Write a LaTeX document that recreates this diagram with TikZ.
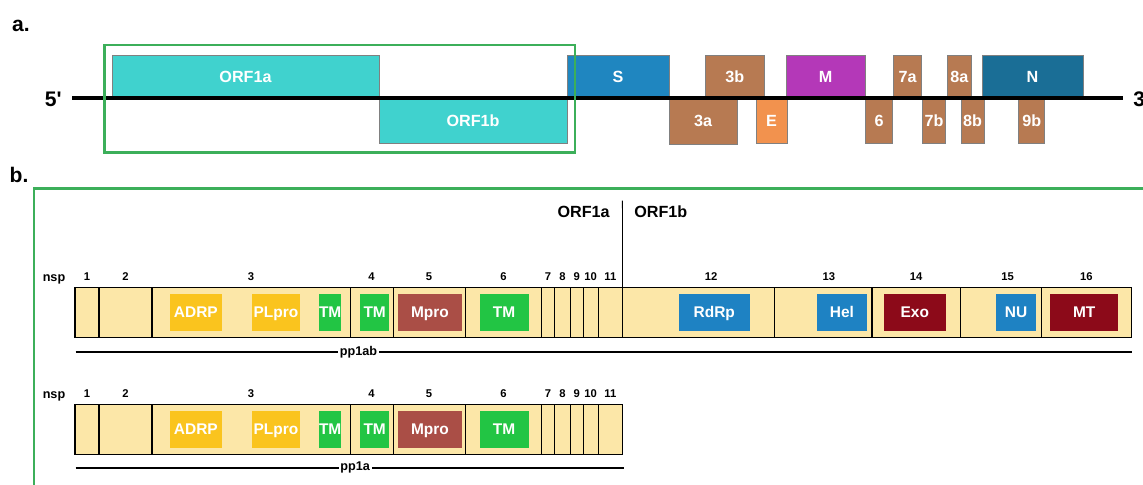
\documentclass[tikz,border=0pt]{standalone}
\usepackage{fontspec}
\setmainfont{Liberation Sans}
\usepackage{xcolor}
\usepackage{tikz}
\usetikzlibrary{positioning}
\definecolor{orfteal}{RGB}{64,210,206}
\definecolor{spikeblue}{RGB}{31,134,192}
\definecolor{nucblue}{RGB}{26,110,150}
\definecolor{accbrown}{RGB}{183,122,82}
\definecolor{envorange}{RGB}{242,146,78}
\definecolor{membpurple}{RGB}{180,56,184}
\definecolor{framegreen}{RGB}{60,175,90}
\definecolor{barfill}{RGB}{252,231,168}
\definecolor{domgold}{RGB}{250,196,30}
\definecolor{domgreen}{RGB}{34,197,68}
\definecolor{domred}{RGB}{170,78,70}
\definecolor{domblue}{RGB}{30,130,195}
\definecolor{domdark}{RGB}{140,10,25}
\tikzset{
  panel/.style={font=\bfseries\fontsize{15}{18}\selectfont, inner sep=0pt},
  gene/.style={draw=black!50, line width=0.4pt, inner sep=0pt, outer sep=0pt,
               font=\bfseries\fontsize{11.5}{13}\selectfont, text=white,
               text height=8.2pt, text depth=0pt},
  upgene/.style={gene, anchor=south west, minimum height=1.075cm},
  downgene/.style={gene, anchor=north west, minimum height=1.125cm},
  genome/.style={line width=3.2pt, black},
  endlbl/.style={font=\bfseries\fontsize{15}{18}\selectfont, inner sep=0pt},
  frame/.style={draw=framegreen, line width=2pt},
  seg/.style={draw=black, line width=0.8pt, fill=barfill, minimum height=1.25cm,
              inner sep=0pt, outer sep=0pt},
  nsplbl/.style={font=\bfseries\fontsize{8}{10}\selectfont, inner sep=0pt, yshift=4.5pt},
  nsphead/.style={font=\bfseries\fontsize{9}{11}\selectfont, inner sep=0pt},
  dom/.style={inner sep=0pt, minimum height=0.92cm, text=white,
              font=\bfseries\fontsize{11}{13}\selectfont,
              text height=7.9pt, text depth=0pt},
  orflbl/.style={font=\bfseries\fontsize{11.5}{13}\selectfont, inner sep=0pt},
  divider/.style={line width=0.6pt, black},
  ppline/.style={line width=1.2pt, black},
  pplbl/.style={font=\bfseries\fontsize{9}{11}\selectfont, fill=white, inner sep=1.2pt}
}
\begin{document}
\begin{tikzpicture}[x=0.025cm, y=-0.025cm]
\useasboundingbox (0,0) rectangle (1143,485);
% a. genome
\node[panel] (pa) at (21,26) {a.};
\node[upgene, fill=orfteal, minimum width=6.675cm] (orf1a) at (112,98) {ORF1a};
\node[downgene, fill=orfteal, minimum width=4.7cm] (orf1b) at (379,98) {ORF1b};
\node[upgene, fill=spikeblue, minimum width=2.55cm] (S) at (567,98) {S};
\node[downgene, fill=accbrown, minimum width=1.7cm, minimum height=1.15cm] (g3a) at (669,98) {3a};
\node[upgene, fill=accbrown, minimum width=1.4875cm] (g3b) at (705,98) {3b};
\node[downgene, fill=envorange, minimum width=0.775cm] (E) at (756,98) {E};
\node[upgene, fill=membpurple, minimum width=1.975cm] (M) at (786,98) {M};
\node[downgene, fill=accbrown, minimum width=0.675cm] (g6) at (865.6,98) {6};
\node[upgene, fill=accbrown, minimum width=0.7cm] (g7a) at (893.5,98) {7a};
\node[downgene, fill=accbrown, minimum width=0.575cm] (g7b) at (922.5,98) {7b};
\node[upgene, fill=accbrown, minimum width=0.6cm] (g8a) at (947.4,98) {8a};
\node[downgene, fill=accbrown, minimum width=0.575cm] (g8b) at (961,98) {8b};
\node[upgene, fill=nucblue, minimum width=2.525cm] (N) at (982,98) {N};
\node[downgene, fill=accbrown, minimum width=0.65cm] (g9b) at (1018.7,98) {9b};
\coordinate (end5) at (72,98);
\coordinate (end3) at (1123,98);
\draw[genome] (end5) -- (end3);
\node[endlbl, anchor=east] (five) at (62,99) {5\textquotesingle};
\node[endlbl, anchor=west] (three) at (1133,99) {3\textquotesingle};
\draw[frame] (104.5,45) rectangle (575,152.3);
% b. polyproteins
\node[panel] (pb) at (19,175) {b.};
\draw[frame] (34,188.3) rectangle (1180,530);
\node[orflbl, anchor=east] (lbl1a) at (610,212) {ORF1a};
\node[orflbl, anchor=west] (lbl1b) at (634,212) {ORF1b};
% pp1ab
\node[nsphead, anchor=base] (nspab) at (54,281) {nsp};
\node[seg, minimum width=0.6cm, anchor=north west, label={[nsplbl]above:1}] (p1) at (75,287.3) {};
\node[seg, minimum width=1.325cm, right=0pt of p1, label={[nsplbl]above:2}] (p2) {};
\node[seg, minimum width=4.95cm, right=0pt of p2, label={[nsplbl]above:3}] (p3) {};
\node[seg, minimum width=1.075cm, right=0pt of p3, label={[nsplbl]above:4}] (p4) {};
\node[seg, minimum width=1.8cm, right=0pt of p4, label={[nsplbl]above:5}] (p5) {};
\node[seg, minimum width=1.915cm, right=0pt of p5, label={[nsplbl]above:6}] (p6) {};
\node[seg, minimum width=0.3175cm, right=0pt of p6, label={[nsplbl]above:7}] (p7) {};
\node[seg, minimum width=0.3975cm, right=0pt of p7, label={[nsplbl]above:8}] (p8) {};
\node[seg, minimum width=0.32cm, right=0pt of p8, label={[nsplbl]above:9}] (p9) {};
\node[seg, minimum width=0.375cm, right=0pt of p9, label={[nsplbl]above:10}] (p10) {};
\node[seg, minimum width=0.61cm, right=0pt of p10, label={[nsplbl]above:11}] (p11) {};
\node[seg, minimum width=3.795cm, right=0pt of p11, label={[nsplbl, xshift=9pt]above:12}] (p12) {};
\node[seg, minimum width=2.44cm, right=0pt of p12, label={[nsplbl, xshift=4pt]above:13}] (p13) {};
\node[seg, minimum width=2.205cm, right=0pt of p13, label={[nsplbl]above:14}] (p14) {};
\node[seg, minimum width=2.02cm, right=0pt of p14, label={[nsplbl, xshift=5pt]above:15}] (p15) {};
\node[seg, minimum width=2.2675cm, right=0pt of p15, label={[nsplbl]above:16}] (p16) {};
\coordinate (divtop) at (622.4,200.7);
\draw[divider] (divtop) -- (p12.north west);
\node[dom, fill=domgold, minimum width=1.285cm] (adrp1) at (195.9,312.4) {ADRP};
\node[dom, fill=domgold, minimum width=1.205cm] (plpro1) at (275.9,312.4) {PLpro};
\node[dom, fill=domgreen, minimum width=0.55cm] (tm3a) at (330.2,312.4) {TM};
\node[dom, fill=domgreen, minimum width=0.715cm] (tm4a) at (374.7,312.4) {TM};
\node[dom, fill=domred, minimum width=1.6cm] (mpro1) at (430,312.4) {Mpro};
\node[dom, fill=domgreen, minimum width=1.225cm] (tm6a) at (504.1,312.4) {TM};
\node[dom, fill=domblue, minimum width=1.765cm] (rdrp) at (714.3,312.4) {RdRp};
\node[dom, fill=domblue, minimum width=1.27cm] (hel) at (841.9,312.4) {Hel};
\node[dom, fill=domdark, minimum width=1.54cm] (exo) at (914.8,312.4) {Exo};
\node[dom, fill=domblue, minimum width=1.01cm] (nu) at (1016,312.4) {NU};
\node[dom, fill=domdark, minimum width=1.71cm] (mt) at (1084.2,312.4) {MT};
\coordinate (ab0) at (75.5,352);
\coordinate (ab1) at (1131.5,352);
\draw[ppline] (ab0) -- node[pplbl, pos=0.268] (pp1ab) {pp1ab} (ab1);
% pp1a
\node[nsphead, anchor=base] (nspa) at (54,398) {nsp};
\node[seg, minimum width=0.6cm, anchor=north west, label={[nsplbl]above:1}] (q1) at (75,404.3) {};
\node[seg, minimum width=1.325cm, right=0pt of q1, label={[nsplbl]above:2}] (q2) {};
\node[seg, minimum width=4.95cm, right=0pt of q2, label={[nsplbl]above:3}] (q3) {};
\node[seg, minimum width=1.075cm, right=0pt of q3, label={[nsplbl]above:4}] (q4) {};
\node[seg, minimum width=1.8cm, right=0pt of q4, label={[nsplbl]above:5}] (q5) {};
\node[seg, minimum width=1.915cm, right=0pt of q5, label={[nsplbl]above:6}] (q6) {};
\node[seg, minimum width=0.3175cm, right=0pt of q6, label={[nsplbl]above:7}] (q7) {};
\node[seg, minimum width=0.3975cm, right=0pt of q7, label={[nsplbl]above:8}] (q8) {};
\node[seg, minimum width=0.32cm, right=0pt of q8, label={[nsplbl]above:9}] (q9) {};
\node[seg, minimum width=0.375cm, right=0pt of q9, label={[nsplbl]above:10}] (q10) {};
\node[seg, minimum width=0.61cm, right=0pt of q10, label={[nsplbl]above:11}] (q11) {};
\node[dom, fill=domgold, minimum width=1.285cm] (adrp2) at (195.9,429.4) {ADRP};
\node[dom, fill=domgold, minimum width=1.205cm] (plpro2) at (275.9,429.4) {PLpro};
\node[dom, fill=domgreen, minimum width=0.55cm] (tm3b) at (330.2,429.4) {TM};
\node[dom, fill=domgreen, minimum width=0.715cm] (tm4b) at (374.7,429.4) {TM};
\node[dom, fill=domred, minimum width=1.6cm] (mpro2) at (430,429.4) {Mpro};
\node[dom, fill=domgreen, minimum width=1.225cm] (tm6b) at (504.1,429.4) {TM};
\coordinate (a0) at (75.5,467.7);
\coordinate (a1) at (623.7,467.7);
\draw[ppline] (a0) -- node[pplbl, pos=0.51] (pp1a) {pp1a} (a1);
\end{tikzpicture}
\end{document}
